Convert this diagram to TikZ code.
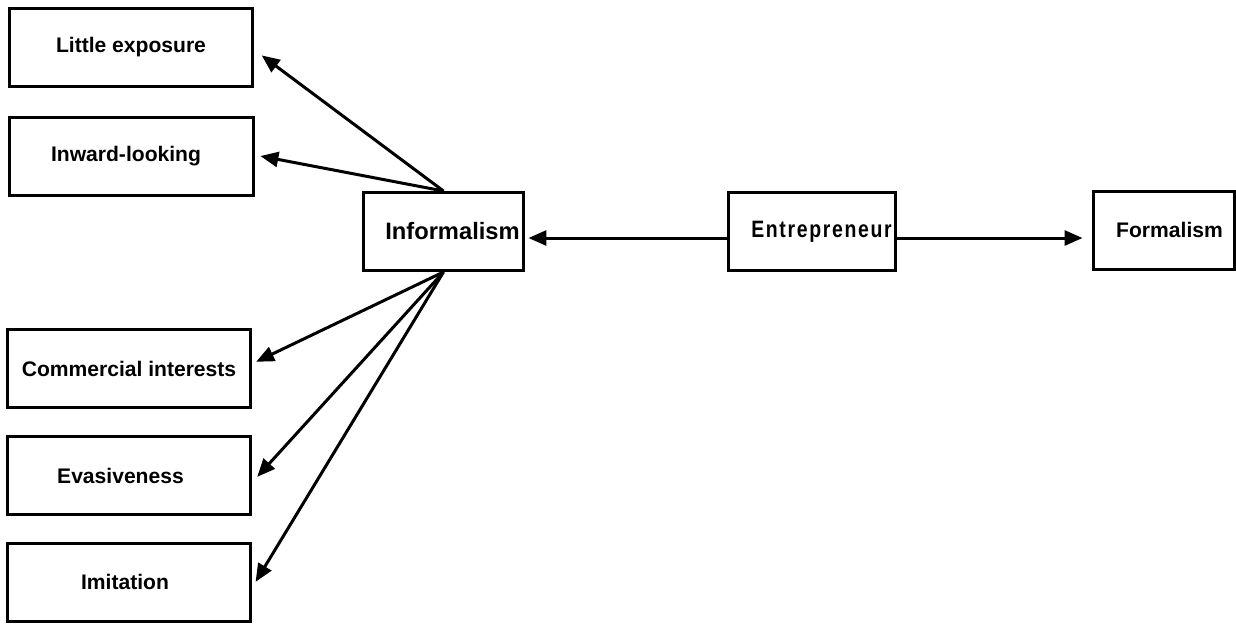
\documentclass[tikz,border=0pt]{standalone}
\usepackage{fontspec}
\setmainfont{Liberation Sans}
\newfontfamily\entfont{Liberation Sans}[FakeStretch=0.82,LetterSpace=7]
\usetikzlibrary{arrows.meta}
\colorlet{inkx}{black}
\tikzset{
    box/.style={draw=inkx,line width=0.06cm,inner sep=0pt,minimum width=4.88cm,minimum height=1.56cm,font=\fontsize{12}{14}\selectfont\bfseries},
    mid/.style={box,font=\fontsize{13.5}{16}\selectfont\bfseries},
    link/.style={inkx,line width=0.06cm,-{Triangle[length=0.36cm,width=0.3cm]}}
}
\begin{document}
\begin{tikzpicture}[x=0.02cm,y=-0.02cm]
    \useasboundingbox (0,0) rectangle (1236,623);
    % left column
    \node [box] (little) at (131,47.5) {Little exposure};
    \node [box] (inward) at (131.5,156.5) {Inward-looking\hspace*{0.22cm}};
    \node [box] (commercial) at (129,368.5) {Commercial interests};
    \node [box] (evasive) at (129,475.5) {Evasiveness\hspace*{0.34cm}};
    \node [box] (imitation) at (129,582) {Imitation\hspace*{0.16cm}};
    % middle row
    \node [mid,minimum width=3.22cm] (inform) at (443.5,231.5) {\hspace*{0.36cm}Informalism};
    \node [mid,minimum width=3.36cm] (entre) at (812,231.5) {\entfont\bfseries\hspace*{0.38cm}Entrepreneur};
    \node [box,minimum width=2.82cm] (formal) at (1163.5,230) {\hspace*{0.24cm}Formalism};
    % arrows
    \draw [link,shorten >=0.18cm] (inform.north) -- ([yshift=-0.05cm]little.east);
    \draw [link,shorten >=0.11cm] (inform.north) -- ([yshift=0.03cm]inward.east);
    \draw [link,shorten >=0.08cm] (inform.south) -- ([yshift=0.1cm]commercial.east);
    \draw [link,shorten >=0.14cm] (inform.south) -- ([yshift=-0.13cm]evasive.east);
    \draw [link,shorten >=0.12cm] (inform.south) -- ([yshift=-0.1cm]imitation.east);
    \draw [link,shorten >=0.06cm] ([yshift=-0.13cm]entre.west) -- ([yshift=-0.13cm]entre.west -| inform.east);
    \draw [link,shorten >=0.18cm] ([yshift=-0.13cm]entre.east) -- ([yshift=-0.13cm]entre.east -| formal.west);
\end{tikzpicture}
\end{document}
